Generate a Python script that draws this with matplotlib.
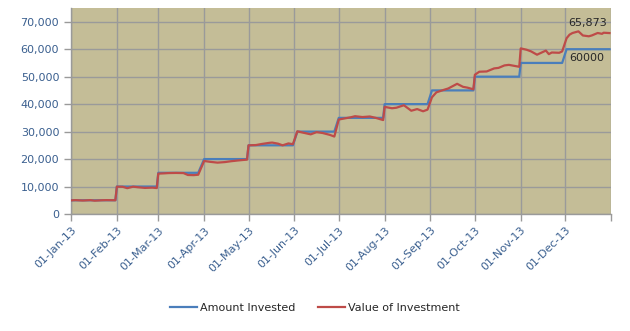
import pandas as pd
import matplotlib
matplotlib.use('Agg')
import matplotlib.pyplot as plt
import matplotlib.ticker as ticker

#
# Data
#

# first / last trading day of each month and the running amount invested
month_first = ['2013-01-01', '2013-02-01', '2013-03-01', '2013-04-01', '2013-05-01', '2013-06-03',
               '2013-07-01', '2013-08-01', '2013-09-02', '2013-10-01', '2013-11-01', '2013-12-02']
month_last = ['2013-01-31', '2013-02-28', '2013-03-28', '2013-04-30', '2013-05-31', '2013-06-28',
              '2013-07-31', '2013-08-30', '2013-09-30', '2013-10-31', '2013-11-29', '2013-12-31']
amount_invested = [5000, 10000, 15000, 20000, 25000, 30000, 35000, 40000, 45000, 50000, 55000, 60000]

value_dates = [
    '2013-01-01', '2013-01-04', '2013-01-09', '2013-01-14', '2013-01-17', '2013-01-22', '2013-01-25', '2013-01-31',
    '2013-02-01', '2013-02-05', '2013-02-08', '2013-02-12', '2013-02-15', '2013-02-20', '2013-02-25', '2013-02-28',
    '2013-03-01', '2013-03-05', '2013-03-08', '2013-03-13', '2013-03-18', '2013-03-21', '2013-03-25', '2013-03-28',
    '2013-04-01', '2013-04-05', '2013-04-10', '2013-04-15', '2013-04-19', '2013-04-24', '2013-04-30',
    '2013-05-01', '2013-05-06', '2013-05-10', '2013-05-15', '2013-05-17', '2013-05-21', '2013-05-24', '2013-05-28', '2013-05-31',
    '2013-06-03', '2013-06-07', '2013-06-12', '2013-06-16', '2013-06-20', '2013-06-25', '2013-06-28',
    '2013-07-01', '2013-07-04', '2013-07-09', '2013-07-12', '2013-07-17', '2013-07-22', '2013-07-26', '2013-07-31',
    '2013-08-01', '2013-08-06', '2013-08-09', '2013-08-14', '2013-08-19', '2013-08-23', '2013-08-27', '2013-08-30',
    '2013-09-02', '2013-09-05', '2013-09-10', '2013-09-13', '2013-09-19', '2013-09-23', '2013-09-26', '2013-09-30',
    '2013-10-01', '2013-10-04', '2013-10-09', '2013-10-14', '2013-10-17', '2013-10-21', '2013-10-24', '2013-10-31',
    '2013-11-01', '2013-11-05', '2013-11-08', '2013-11-12', '2013-11-18', '2013-11-20', '2013-11-22', '2013-11-27', '2013-11-29',
    '2013-12-02', '2013-12-04', '2013-12-06', '2013-12-10', '2013-12-13', '2013-12-17', '2013-12-19', '2013-12-23',
    '2013-12-26', '2013-12-27', '2013-12-31',
]
value_of_investment = [
    4950, 5050, 4900, 5050, 4850, 5000, 5050, 5000,
    9950, 9900, 9400, 9950, 9750, 9500, 9600, 9450,
    14700, 14800, 14900, 14950, 14900, 14200, 14150, 14300,
    19300, 19000, 18700, 18900, 19200, 19500, 19800,
    25000, 25100, 25500, 25900, 26000, 25600, 25000, 25700, 25400,
    30100, 29600, 29000, 29800, 29500, 28800, 28200,
    34400, 34700, 35200, 35600, 35300, 35500, 35000, 34200,
    39000, 38500, 38700, 39600, 37600, 38200, 37400, 38000,
    42500, 44300, 45200, 45700, 47400, 46300, 46000, 45400,
    50700, 51800, 51900, 53000, 53200, 54100, 54300, 53600,
    60300, 59800, 59200, 58000, 59500, 58200, 58800, 58700, 59200,
    64000, 65300, 65900, 66500, 65000, 64700, 65000, 65900,
    65600, 66000, 65873,
]

tick_dates = ['2013-01-01', '2013-02-01', '2013-03-01', '2013-04-01', '2013-05-01', '2013-06-01',
              '2013-07-01', '2013-08-01', '2013-09-01', '2013-10-01', '2013-11-01', '2013-12-01', '2014-01-01']

#
# Build series
#

invested_x = []
invested_y = []
for start, end, amount in zip(month_first, month_last, amount_invested):
    invested_x += [pd.Timestamp(start), pd.Timestamp(end)]
    invested_y += [amount, amount]

value_x = pd.to_datetime(value_dates)

#
# Graph
#

plt.rcParams['font.family'] = 'DejaVu Sans'

fig = plt.figure(figsize=(6.3, 3.31), dpi=100)
ax = fig.add_axes([0.1127, 0.3535, 0.8571, 0.6223])
ax.set_facecolor('#C4BD97')

grid_color = '#9A9A9A'
axis_text = '#3A5F8F'

ax.plot(invested_x, invested_y, color='#4A7EBB', linewidth=1.6, label='Amount Invested', zorder=3)
ax.plot(value_x, value_of_investment, color='#BE4B48', linewidth=1.6, label='Value of Investment', zorder=4)

ax.set_xlim(pd.Timestamp('2013-01-01'), pd.Timestamp('2014-01-01'))
ax.set_ylim(0, 75000)

ticks = pd.to_datetime(tick_dates)
ax.set_xticks(ticks)
ax.set_xticklabels([d.strftime('%d-%b-%y') for d in ticks[:-1]] + [''],
                   rotation=45, ha='right', rotation_mode='anchor', fontsize=8, color=axis_text)
ax.set_yticks(range(0, 70001, 10000))
ax.yaxis.set_major_formatter(ticker.FuncFormatter(lambda v, p: f'{v:,.0f}'))
ax.tick_params(axis='y', labelsize=8, labelcolor=axis_text, color=grid_color, length=5, width=1)
ax.tick_params(axis='x', color=grid_color, length=5, width=1, pad=3)

ax.grid(True, color=grid_color, linewidth=1)
ax.set_axisbelow(True)
for side in ['top', 'right']:
    ax.spines[side].set_visible(False)
for side in ['left', 'bottom']:
    ax.spines[side].set_color(grid_color)
    ax.spines[side].set_linewidth(1)

# end-of-series data labels
ax.annotate(f'{value_of_investment[-1]:,.0f}', xy=(value_x[-1], value_of_investment[-1]),
            xytext=(-2, 4), textcoords='offset points', ha='right', va='bottom',
            fontsize=8, color='#262626', zorder=5)
ax.annotate(f'{amount_invested[-1]}', xy=(invested_x[-1], invested_y[-1]),
            xytext=(-4, -3), textcoords='offset points', ha='right', va='top',
            fontsize=8, color='#262626', zorder=5)

fig.legend(loc='center', bbox_to_anchor=(0.5, 0.07), ncol=2, frameon=False, fontsize=8,
           handlelength=2.4, handletextpad=0.3, columnspacing=2.0, labelcolor='#262626')

fig.savefig('out.png', dpi=100, facecolor='white')
